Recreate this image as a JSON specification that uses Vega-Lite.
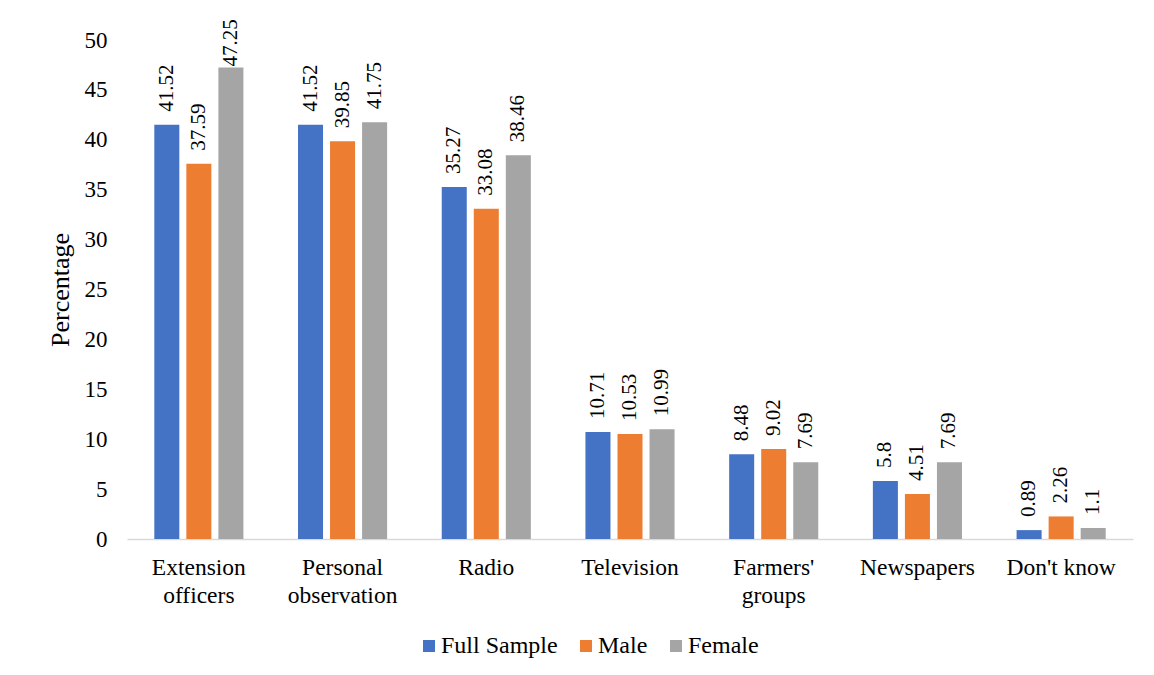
{
  "$schema": "https://vega.github.io/schema/vega-lite/v6.json",
  "width": 1006,
  "height": 499,
  "autosize": {"type": "none"},
  "padding": {"left": 127, "top": 40, "right": 21, "bottom": 136},
  "background": "white",
  "config": {
    "view": {"stroke": null},
    "font": "Liberation Serif"
  },
  "data": {
    "values": [
      {"source": "Extension officers", "group": "Full Sample", "value": 41.52},
      {"source": "Extension officers", "group": "Male", "value": 37.59},
      {"source": "Extension officers", "group": "Female", "value": 47.25},
      {"source": "Personal observation", "group": "Full Sample", "value": 41.52},
      {"source": "Personal observation", "group": "Male", "value": 39.85},
      {"source": "Personal observation", "group": "Female", "value": 41.75},
      {"source": "Radio", "group": "Full Sample", "value": 35.27},
      {"source": "Radio", "group": "Male", "value": 33.08},
      {"source": "Radio", "group": "Female", "value": 38.46},
      {"source": "Television", "group": "Full Sample", "value": 10.71},
      {"source": "Television", "group": "Male", "value": 10.53},
      {"source": "Television", "group": "Female", "value": 10.99},
      {"source": "Farmers' groups", "group": "Full Sample", "value": 8.48},
      {"source": "Farmers' groups", "group": "Male", "value": 9.02},
      {"source": "Farmers' groups", "group": "Female", "value": 7.69},
      {"source": "Newspapers", "group": "Full Sample", "value": 5.8},
      {"source": "Newspapers", "group": "Male", "value": 4.51},
      {"source": "Newspapers", "group": "Female", "value": 7.69},
      {"source": "Don't know", "group": "Full Sample", "value": 0.89},
      {"source": "Don't know", "group": "Male", "value": 2.26},
      {"source": "Don't know", "group": "Female", "value": 1.1}
    ]
  },
  "encoding": {
    "x": {
      "field": "source",
      "type": "nominal",
      "sort": null,
      "scale": {"paddingInner": 0.38, "paddingOuter": 0.19},
      "axis": {
        "title": null,
        "labelAngle": 0,
        "labelFont": "Liberation Serif",
        "labelFontSize": 23.5,
        "labelColor": "#000000",
        "labelPadding": 16,
        "labelLineHeight": 28,
        "labelBaseline": "top",
        "labelExpr": "datum.label == \"Don't know\" ? datum.label : split(datum.label, ' ')",
        "ticks": false,
        "domain": true,
        "domainColor": "#D9D9D9",
        "domainWidth": 1.5,
        "grid": false
      }
    },
    "xOffset": {
      "field": "group",
      "type": "nominal",
      "sort": ["Full Sample", "Male", "Female"],
      "scale": {"paddingInner": 0.219, "paddingOuter": 0}
    },
    "y": {
      "field": "value",
      "type": "quantitative",
      "scale": {"domain": [0, 50], "nice": false},
      "axis": {
        "title": "Percentage",
        "titleFont": "Liberation Serif",
        "titleFontSize": 26,
        "titleFontWeight": "normal",
        "titleColor": "#000000",
        "titlePadding": 11,
        "values": [0, 5, 10, 15, 20, 25, 30, 35, 40, 45, 50],
        "labelFont": "Liberation Serif",
        "labelFontSize": 23,
        "labelColor": "#000000",
        "labelPadding": 20,
        "ticks": false,
        "domain": false,
        "grid": false
      }
    }
  },
  "layer": [
    {
      "mark": {"type": "bar"},
      "encoding": {
        "color": {
          "field": "group",
          "type": "nominal",
          "sort": ["Full Sample", "Male", "Female"],
          "scale": {
            "domain": ["Full Sample", "Male", "Female"],
            "range": ["#4472C4", "#ED7D31", "#A5A5A5"]
          },
          "legend": {
            "title": null,
            "orient": "none",
            "legendX": 290,
            "legendY": 594,
            "direction": "horizontal",
            "symbolType": "square",
            "symbolSize": 144,
            "symbolStrokeWidth": 0,
            "labelFont": "Liberation Serif",
            "labelFontSize": 24,
            "labelColor": "#000000",
            "labelOffset": 0,
            "columnPadding": 16
          }
        }
      }
    },
    {
      "transform": [{"filter": "datum.value != 47.25"}],
      "mark": {
        "type": "text",
        "angle": 270,
        "align": "left",
        "baseline": "middle",
        "dx": 13,
        "fontSize": 21,
        "font": "Liberation Serif",
        "color": "#000000"
      },
      "encoding": {
        "text": {"field": "value", "type": "quantitative"}
      }
    },
    {
      "transform": [{"filter": "datum.value == 47.25"}],
      "mark": {
        "type": "text",
        "angle": 270,
        "align": "left",
        "baseline": "middle",
        "dx": 1,
        "fontSize": 21,
        "font": "Liberation Serif",
        "color": "#000000"
      },
      "encoding": {
        "text": {"field": "value", "type": "quantitative"}
      }
    }
  ]
}
